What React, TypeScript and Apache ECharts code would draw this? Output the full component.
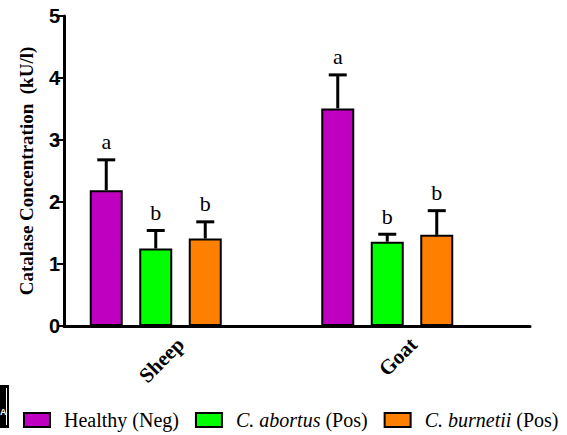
import React, { useEffect, useRef } from "react";
import * as echarts from "echarts";

const categories = ["Sheep", "Goat"];
const seriesNames = ["Healthy (Neg)", "C. abortus (Pos)", "C. burnetii (Pos)"];
const seriesColors = ["#C000C0", "#00FF00", "#FF8000"];
const healthyMean = [2.19, 3.51];
const healthyUpper = [2.68, 4.05];
const abortusMean = [1.25, 1.36];
const abortusUpper = [1.54, 1.48];
const burnetiiMean = [1.41, 1.47];
const burnetiiUpper = [1.68, 1.86];
const healthyLetters = ["a", "a"];
const abortusLetters = ["b", "b"];
const burnetiiLetters = ["b", "b"];
const yMin = 0;
const yMax = 5;
const yStep = 1;

const BAR_W = 33;
const BAR_GAP = 0.5;
const SERIF = "Liberation Serif";
const SANS = "Liberation Sans";

export default function App() {
  const ref = useRef<HTMLDivElement>(null);
  useEffect(() => {
    if (!ref.current) return;
    const chart = echarts.init(ref.current, undefined, { renderer: "svg" });
    const means = [healthyMean, abortusMean, burnetiiMean];
    const uppers = [healthyUpper, abortusUpper, burnetiiUpper];
    const letters = [healthyLetters, abortusLetters, burnetiiLetters];
    const step = BAR_W * (1 + BAR_GAP);

    const barSeries = seriesNames.map((name, g) => ({
      name,
      type: "bar",
      xAxisIndex: 1,
      yAxisIndex: 1,
      barWidth: BAR_W,
      barGap: BAR_GAP * 100 + "%",
      data: means[g],
      itemStyle: { color: seriesColors[g], borderColor: "#000", borderWidth: 2 },
    }));

    const errSeries = seriesNames.map((name, g) => ({
      name: "err" + g,
      type: "custom",
      xAxisIndex: 1,
      yAxisIndex: 1,
      z: 5,
      data: categories.map((_, i) => [i, means[g][i], uppers[g][i]]),
      renderItem: (params: any, api: any) => {
        const idx = api.value(0);
        const top = api.coord([idx, api.value(1)]);
        const up = api.coord([idx, api.value(2)]);
        const x = top[0] + (g - 1) * step;
        return {
          type: "group",
          children: [
            {
              type: "line",
              shape: { x1: x, y1: top[1], x2: x, y2: up[1] },
              style: { stroke: "#000", lineWidth: 3 },
            },
            {
              type: "line",
              shape: { x1: x - 9, y1: up[1], x2: x + 9, y2: up[1] },
              style: { stroke: "#000", lineWidth: 3 },
            },
            {
              type: "text",
              x,
              y: up[1] - 7,
              style: {
                text: letters[g][params.dataIndex],
                fill: "#000",
                fontFamily: SERIF,
                fontSize: 22,
                align: "center",
                verticalAlign: "bottom",
              },
            },
          ],
        };
      },
    }));

    chart.setOption({
      animation: false,
      backgroundColor: "#fff",
      grid: [
        { left: 64, right: 37, top: 16, bottom: 109 },
        { left: 40, right: 64, top: 16, bottom: 109 },
      ],
      xAxis: [
        {
          type: "category",
          gridIndex: 0,
          data: categories,
          boundaryGap: true,
          axisLine: { lineStyle: { color: "#000", width: 3 } },
          axisTick: { alignWithLabel: true, length: 6, lineStyle: { color: "#000", width: 2 } },
          axisLabel: {
            rotate: 45,
            margin: 15,
            color: "#000",
            fontFamily: SERIF,
            fontWeight: "bold",
            fontSize: 21,
          },
        },
        {
          type: "category",
          gridIndex: 1,
          data: categories,
          show: false,
        },
      ],
      yAxis: [
        {
          type: "value",
          gridIndex: 0,
          min: yMin,
          max: yMax,
          interval: yStep,
          name: "Catalase Concentration  (kU/l)",
          nameLocation: "middle",
          nameGap: 28,
          nameTextStyle: {
            color: "#000",
            fontFamily: SERIF,
            fontWeight: "bold",
            fontSize: 19,
          },
          splitLine: { show: false },
          axisLine: { show: true, lineStyle: { color: "#000", width: 3 } },
          axisTick: { show: true, length: 7, lineStyle: { color: "#000", width: 2 } },
          axisLabel: {
            margin: 4,
            color: "#000",
            fontFamily: SANS,
            fontWeight: "bold",
            fontSize: 20,
          },
        },
        {
          type: "value",
          gridIndex: 1,
          min: yMin,
          max: yMax,
          interval: yStep,
          show: false,
          splitLine: { show: false },
        },
      ],
      legend: {
        data: seriesNames,
        left: 23,
        top: 410,
        padding: 0,
        icon: "rect",
        itemWidth: 26,
        itemHeight: 14,
        itemGap: 16,
        itemStyle: { borderColor: "#000", borderWidth: 2 },
        formatter: (name: string) => {
          const m = name.match(/^(C\. \w+) (\(Pos\))$/);
          if (m) return "{i|" + m[1] + "} {n|" + m[2] + "}";
          return "{n|" + name + "}";
        },
        textStyle: {
          color: "#000",
          fontFamily: SERIF,
          fontSize: 20,
          padding: [0, 0, 0, 9],
          rich: {
            n: { fontFamily: SERIF, fontSize: 20, color: "#000" },
            i: { fontFamily: SERIF, fontSize: 20, fontStyle: "italic", color: "#000" },
          },
        },
      },
      graphic: [
        { type: "rect", shape: { x: 0, y: 385, width: 9, height: 43 }, style: { fill: "#000" } },
        { type: "line", shape: { x1: 6.5, y1: 388, x2: 6.5, y2: 425 }, style: { stroke: "#fff", lineWidth: 1 } },
        {
          type: "text",
          x: 0,
          y: 412,
          style: { text: "A", fill: "#fff", fontFamily: SANS, fontWeight: "bold", fontSize: 9, align: "left", verticalAlign: "middle" },
        },
      ],
      series: [...barSeries, ...errSeries],
    });
    return () => chart.dispose();
  }, []);
  return <div ref={ref} style={{ position: "fixed", left: 0, top: 0, width: 567, height: 435 }} />;
}
